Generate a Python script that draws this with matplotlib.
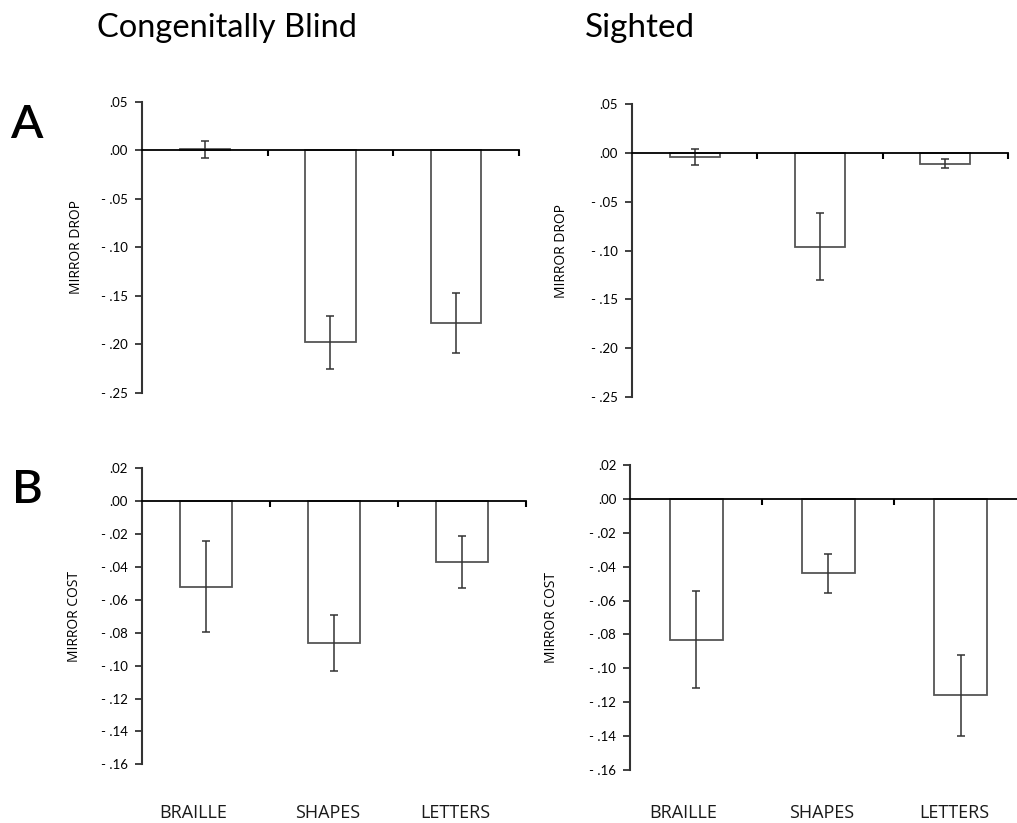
import matplotlib
matplotlib.use("Agg")
import matplotlib.pyplot as plt
from matplotlib.ticker import FuncFormatter
from matplotlib.transforms import blended_transform_factory

categories = ["BRAILLE", "SHAPES", "LETTERS"]

blind_drop = [0.001, -0.198, -0.178]
blind_drop_err = [0.009, 0.027, 0.031]
sighted_drop = [-0.004, -0.096, -0.011]
sighted_drop_err = [0.008, 0.034, 0.0045]

blind_cost = [-0.052, -0.086, -0.037]
blind_cost_err = [0.0275, 0.017, 0.0157]
sighted_cost = [-0.083, -0.044, -0.116]
sighted_cost_err = [0.0287, 0.0115, 0.0237]

drop_ticks = [0.05, 0.0, -0.05, -0.10, -0.15, -0.20, -0.25]
cost_ticks = [0.02, 0.0, -0.02, -0.04, -0.06, -0.08, -0.10, -0.12, -0.14, -0.16]

plt.rcParams['font.family'] = ['Lato', 'DejaVu Sans']

fig = plt.figure(figsize=(10.17, 8.23), dpi=100)

def fmt(v, pos):
    if abs(v) < 1e-9:
        return ".00"
    s = f"{abs(v):.2f}".lstrip("0")
    return s if v > 0 else "- " + s

def panel(rect, vals, errs, ticks, ylabel, labelpad):
    ax = fig.add_axes(rect)
    x = range(len(vals))
    ax.bar(x, vals, width=0.4, color="white", edgecolor="#555555", linewidth=1.3, zorder=2)
    ax.errorbar(x, vals, yerr=errs, fmt="none", ecolor="#333333", elinewidth=1.1,
                capsize=3, capthick=1.1, zorder=3)
    ax.set_xlim(-0.5, 2.5)
    ax.set_ylim(ticks[-1], ticks[0])
    ax.set_yticks(ticks)
    ax.yaxis.set_major_formatter(FuncFormatter(fmt))
    ax.tick_params(axis="y", length=5, width=1.3, labelsize=9.5, pad=5, color="#333333")
    for s in ["top", "right"]:
        ax.spines[s].set_visible(False)
    ax.spines["left"].set_linewidth(1.5)
    ax.spines["left"].set_color("#333333")
    ax.spines["bottom"].set_position(("data", 0))
    ax.spines["bottom"].set_linewidth(1.3)
    ax.spines["bottom"].set_zorder(4)
    ax.set_xticks([0.5, 1.5, 2.5])
    ax.set_xticklabels([])
    ax.tick_params(axis="x", length=4, width=1.5, direction="out")
    ax.set_ylabel(ylabel, fontsize=10, labelpad=labelpad, family=['Open Sans', 'DejaVu Sans'])
    ax.patch.set_alpha(0)
    return ax

ax1 = panel([0.1396, 0.5225, 0.3707, 0.3539], blind_drop, blind_drop_err, drop_ticks, "MIRROR DROP", 12)
ax2 = panel([0.6214, 0.5173, 0.3697, 0.3564], sighted_drop, sighted_drop_err, drop_ticks, "MIRROR DROP", 16)
ax3 = panel([0.1396, 0.0713, 0.3776, 0.3597], blind_cost, blind_cost_err, cost_ticks, "MIRROR COST", 14)
ax4 = panel([0.6195, 0.0644, 0.3900, 0.3706], sighted_cost, sighted_cost_err, cost_ticks, "MIRROR COST", 22)

for ax in (ax3, ax4):
    tr = blended_transform_factory(ax.transData, fig.transFigure)
    for i, c in enumerate(categories):
        ax.text(i - 0.1 if i == 0 else i - 0.05, 1 - 813 / 823, c, transform=tr,
                ha="center", va="center", fontsize=13, family=['Open Sans', 'DejaVu Sans'],
                color="#1a1a1a")

fig.text(97 / 1017, 1 - 37 / 823, "Congenitally Blind", fontsize=23.5, ha="left", va="baseline")
fig.text(585 / 1017, 1 - 37 / 823, "Sighted", fontsize=24, ha="left", va="baseline")
fig.text(10 / 1017, 1 - 138 / 823, "A", fontsize=34, ha="left", va="baseline", fontweight="semibold")
fig.text(12 / 1017, 1 - 503 / 823, "B", fontsize=34, ha="left", va="baseline", fontweight="semibold")

fig.savefig("out.png", dpi=100, facecolor="white")
